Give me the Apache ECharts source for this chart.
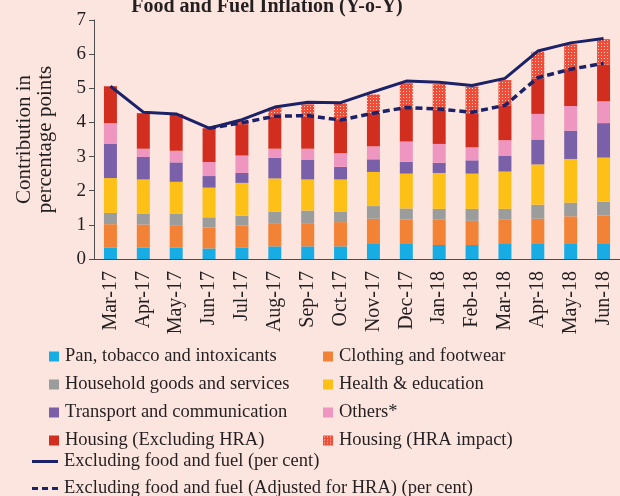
<!DOCTYPE html>
<html>
<head>
<meta charset="utf-8">
<script src="https://cdn.jsdelivr.net/npm/echarts@6/dist/echarts.min.js"></script>
<style>
    html, body { margin: 0; padding: 0; background: #fde5df; }
    #chart { width: 620px; height: 496px; }
</style>
</head>
<body>
<div id="chart"></div>
<script>
var months = ['Mar-17', 'Apr-17', 'May-17', 'Jun-17', 'Jul-17', 'Aug-17', 'Sep-17', 'Oct-17',
    'Nov-17', 'Dec-17', 'Jan-18', 'Feb-18', 'Mar-18', 'Apr-18', 'May-18', 'Jun-18'];

// contributions, percentage points
var pan_tobacco = [0.34, 0.34, 0.34, 0.31, 0.34, 0.37, 0.37, 0.37, 0.44, 0.44, 0.41, 0.41, 0.44, 0.44, 0.44, 0.44];
var clothing = [0.68, 0.67, 0.65, 0.61, 0.64, 0.68, 0.68, 0.71, 0.74, 0.72, 0.74, 0.71, 0.71, 0.74, 0.81, 0.83];
var household = [0.33, 0.31, 0.33, 0.30, 0.29, 0.34, 0.37, 0.30, 0.37, 0.32, 0.32, 0.35, 0.32, 0.41, 0.40, 0.41];
var health_edu = [1.02, 1.01, 0.94, 0.87, 0.96, 0.97, 0.91, 0.95, 1.00, 1.02, 1.05, 1.03, 1.09, 1.18, 1.28, 1.29];
var transport = [1.00, 0.66, 0.57, 0.34, 0.29, 0.60, 0.57, 0.37, 0.37, 0.35, 0.30, 0.39, 0.47, 0.73, 0.83, 1.01];
var others = [0.61, 0.24, 0.34, 0.41, 0.51, 0.27, 0.33, 0.40, 0.38, 0.59, 0.55, 0.38, 0.45, 0.75, 0.72, 0.64];
var housing_ex_hra = [1.08, 1.04, 1.07, 0.99, 0.92, 0.94, 0.94, 0.97, 0.98, 0.98, 1.00, 1.00, 1.02, 1.04, 1.08, 1.08];
var housing_hra = [null, null, null, null, 0.10, 0.26, 0.36, 0.49, 0.54, 0.73, 0.75, 0.78, 0.74, 0.78, 0.73, 0.74];

// per cent
var ex_food_fuel = [5.06, 4.30, 4.25, 3.83, 4.08, 4.45, 4.59, 4.58, 4.90, 5.21, 5.18, 5.08, 5.29, 6.09, 6.33, 6.46];
var ex_food_fuel_adj = [null, null, null, 3.83, 3.99, 4.18, 4.20, 4.07, 4.27, 4.44, 4.39, 4.30, 4.50, 5.31, 5.56, 5.73];

var y_ticks = [0, 1, 2, 3, 4, 5, 6, 7];

var font = '"Liberation Serif", serif';
var text_color = '#231f20';
var navy = '#1c2268';

// dotted fill for the HRA impact
function make_hra_pattern() {
    var c = document.createElement('canvas');
    c.width = 3;
    c.height = 3;
    var ctx = c.getContext('2d');
    ctx.fillStyle = '#ef4d37';
    ctx.fillRect(0, 0, 3, 3);
    ctx.fillStyle = '#fcd3c8';
    ctx.fillRect(1, 1, 1, 1);
    return c;
}

function bar_series(name, data, color) {
    return {
        name: name,
        type: 'bar',
        stack: 'cpi',
        barWidth: 13,
        data: data,
        itemStyle: { color: color },
        emphasis: { disabled: true }
    };
}

function get_chart_option() {
    var legend_text = { fontFamily: font, fontSize: 18.5, color: text_color, padding: [0, 0, 0, 1] };
    return {
        backgroundColor: '#fde5df',
        animation: false,
        title: {
            text: 'Food and Fuel Inflation (Y-o-Y)',
            left: 267,
            textAlign: 'center',
            top: -3,
            padding: 0,
            textStyle: { fontFamily: font, fontSize: 20, fontWeight: 'bold', color: text_color }
        },
        grid: { left: 94, top: 20, width: 528, height: 239 },
        legend: [
            {
                orient: 'vertical',
                left: 44,
                top: 342,
                height: 120,
                itemWidth: 10,
                itemHeight: 10,
                itemGap: 9,
                icon: 'rect',
                textStyle: legend_text,
                data: ['Pan, tobacco and intoxicants', 'Household goods and services',
                    'Transport and communication', 'Housing (Excluding HRA)']
            },
            {
                orient: 'vertical',
                left: 318,
                top: 342,
                height: 120,
                itemWidth: 10,
                itemHeight: 10,
                itemGap: 9,
                icon: 'rect',
                textStyle: legend_text,
                data: ['Clothing and footwear', 'Health & education', 'Others*', 'Housing (HRA impact)']
            },
            {
                orient: 'vertical',
                left: 27,
                top: 447,
                height: 60,
                itemWidth: 26,
                itemHeight: 3,
                itemGap: 8,
                textStyle: legend_text,
                data: [
                    { name: 'Excluding food and fuel (per cent)', icon: 'rect' },
                    {
                        name: 'Excluding food and fuel (Adjusted for HRA) (per cent)',
                        icon: 'path://M0,0 H6 V3 H0 Z M10,0 H16 V3 H10 Z M20,0 H26 V3 H20 Z'
                    }
                ]
            }
        ],
        xAxis: {
            type: 'category',
            data: months,
            axisLine: { lineStyle: { color: '#4d4d4d', width: 1 } },
            axisTick: { length: 5, lineStyle: { color: '#4d4d4d' } },
            axisLabel: { rotate: 90, margin: 12, fontFamily: font, fontSize: 20, color: text_color }
        },
        yAxis: {
            type: 'value',
            min: y_ticks[0],
            max: y_ticks[y_ticks.length - 1],
            interval: 1,
            splitLine: { show: false },
            axisLine: { show: true, lineStyle: { color: '#4d4d4d', width: 1 } },
            axisTick: { show: true, length: 5, lineStyle: { color: '#4d4d4d' } },
            axisLabel: { margin: 8, fontFamily: font, fontSize: 19, color: text_color },
            name: 'Contribution in\npercentage points',
            nameLocation: 'middle',
            nameRotate: 90,
            nameGap: 38,
            nameTextStyle: { fontFamily: font, fontSize: 21, lineHeight: 21, color: text_color }
        },
        series: [
            bar_series('Pan, tobacco and intoxicants', pan_tobacco, '#17ade4'),
            bar_series('Clothing and footwear', clothing, '#f28235'),
            bar_series('Household goods and services', household, '#9b9c9c'),
            bar_series('Health & education', health_edu, '#fcc016'),
            bar_series('Transport and communication', transport, '#7a60a8'),
            bar_series('Others*', others, '#ee95c0'),
            bar_series('Housing (Excluding HRA)', housing_ex_hra, '#d12e20'),
            bar_series('Housing (HRA impact)', housing_hra, { image: make_hra_pattern(), repeat: 'repeat' }),
            {
                name: 'Excluding food and fuel (per cent)',
                type: 'line',
                data: ex_food_fuel,
                symbol: 'none',
                z: 5,
                lineStyle: { color: navy, width: 3 },
                itemStyle: { color: navy }
            },
            {
                name: 'Excluding food and fuel (Adjusted for HRA) (per cent)',
                type: 'line',
                data: ex_food_fuel_adj,
                symbol: 'none',
                z: 5,
                lineStyle: { color: navy, width: 3.5, type: [7, 4] },
                itemStyle: { color: navy }
            }
        ]
    };
}

var chart = echarts.init(document.getElementById('chart'));
chart.setOption(get_chart_option());
</script>
</body>
</html>
